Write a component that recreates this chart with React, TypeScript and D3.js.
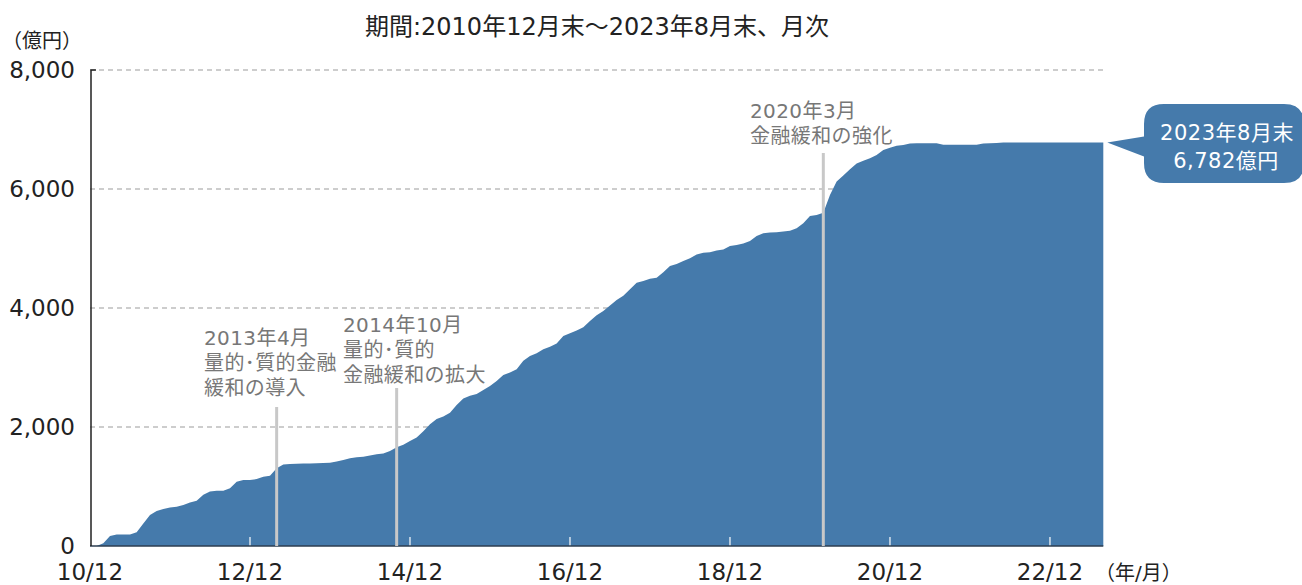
import React from 'react';
import * as d3 from 'd3';

const width = 1302;
const height = 585;
const font = '"DejaVu Sans", "Noto Sans CJK JP", "Noto Sans", sans-serif';

const title = '期間:2010年12月末～2023年8月末、月次';
const unitLabel = '（億円）';
const xUnitLabel = '（年/月）';

// month-end holdings (億円), 2010/12 .. 2023/8
const holdings = [
  0, 0, 45, 170, 195, 195, 195, 230, 380, 520,
  590, 620, 645, 660, 690, 730, 760, 860, 915, 930,
  930, 970, 1080, 1110, 1110, 1125, 1165, 1180, 1305, 1370,
  1380, 1382, 1385, 1388, 1390, 1395, 1400, 1420, 1445, 1475,
  1490, 1500, 1520, 1540, 1555, 1595, 1660, 1700, 1765, 1825,
  1930, 2045, 2135, 2175, 2240, 2370, 2480, 2525, 2555, 2620,
  2690, 2775, 2875, 2915, 2970, 3115, 3195, 3240, 3305, 3350,
  3405, 3530, 3575, 3620, 3675, 3780, 3880, 3950, 4040, 4135,
  4205, 4315, 4425, 4455, 4490, 4510, 4600, 4705, 4740, 4790,
  4835, 4900, 4930, 4935, 4965, 4985, 5040, 5060, 5085, 5125,
  5210, 5255, 5270, 5275, 5285, 5300, 5340, 5425, 5545, 5565,
  5600, 5900, 6125, 6225, 6330, 6430, 6475, 6515, 6570, 6655,
  6695, 6725, 6740, 6765, 6770, 6770, 6770, 6770, 6745, 6745,
  6745, 6745, 6745, 6745, 6765, 6770, 6775, 6780, 6780, 6781,
  6781, 6781, 6782, 6782, 6782, 6782, 6782, 6782, 6782, 6782,
  6782, 6782, 6782,
];

const yTicks = [0, 2000, 4000, 6000, 8000];
const xTickMonths = [0, 24, 48, 72, 96, 120, 144];
const xTickLabels = ['10/12', '12/12', '14/12', '16/12', '18/12', '20/12', '22/12'];

const eventMonths = [28, 46, 110];
const eventLabels = [
  ['2013年4月', '量的･質的金融', '緩和の導入'],
  ['2014年10月', '量的･質的', '金融緩和の拡大'],
  ['2020年3月', '金融緩和の強化'],
];
const calloutTitle = '2023年8月末';

// label placement for each event (layout only)
const eventLayout = [
  { lineTop: 407, tx: 204, ty: 345 },
  { lineTop: 388, tx: 343, ty: 332 },
  { lineTop: 153, tx: 750, ty: 118 },
];

const App = () => {
  const x = d3.scaleLinear().domain([0, holdings.length - 1]).range([90, 1103.3]);
  const y = d3.scaleLinear().domain([0, 8000]).range([546, 70]);
  const area = d3
    .area<number>()
    .x((d, i) => x(i))
    .y0(y(0))
    .y1((d) => y(d))
    .curve(d3.curveLinear);

  const last = holdings[holdings.length - 1];
  const lastX = x(holdings.length - 1);
  const lastY = y(last);
  const fmt = d3.format(',');

  // callout box
  const bx0 = 1144, bx1 = 1304, by0 = 104, by1 = 183, r = 20;
  const callout =
    `M${bx0 + r},${by0} H${bx1 - r} Q${bx1},${by0} ${bx1},${by0 + r} V${by1 - r} Q${bx1},${by1} ${bx1 - r},${by1} ` +
    `H${bx0 + r} Q${bx0},${by1} ${bx0},${by1 - r} V${lastY + 14} L${lastX + 4},${lastY} L${bx0},${lastY - 6} ` +
    `V${by0 + r} Q${bx0},${by0} ${bx0 + r},${by0} Z`;

  return (
    <svg
      width={width}
      height={height}
      style={{ position: 'fixed', left: 0, top: 0, background: '#fff' }}
      fontFamily={font}
    >
      <text x={597} y={35} textAnchor="middle" fontSize={24} fill="#222">
        {title}
      </text>
      <text x={2} y={48} fontSize={20} fill="#222">
        {unitLabel}
      </text>

      {/* grid */}
      {yTicks.filter((t) => t > 0).map((t) => (
        <line
          key={t}
          x1={x(0)}
          x2={x(holdings.length - 1)}
          y1={y(t)}
          y2={y(t)}
          stroke="#bdbdbd"
          strokeWidth={1.3}
          strokeDasharray="5,4"
        />
      ))}

      <path d={area(holdings) ?? ''} fill="#457aab" />

      {/* white ticks inside area */}
      {xTickMonths.slice(1).map((m) => (
        <line key={m} x1={x(m)} x2={x(m)} y1={537} y2={546} stroke="#fff" strokeWidth={1.2} />
      ))}

      {/* axes */}
      <line x1={x(0)} x2={x(holdings.length - 1)} y1={y(0)} y2={y(0)} stroke="#2c3e50" strokeWidth={1.5} />
      <path d={`M${x(0) + 6},${y(8000)} H${x(0) + 1} V${y(0)}`} fill="none" stroke="#222" strokeWidth={1.5} />

      {yTicks.map((t) => (
        <text key={t} x={75} y={y(t) + 8} textAnchor="end" fontSize={23} fill="#222">
          {fmt(t)}
        </text>
      ))}
      {xTickMonths.map((m, i) => (
        <text key={m} x={x(m)} y={580} textAnchor="middle" fontSize={23} fill="#222">
          {xTickLabels[i]}
        </text>
      ))}
      <text x={1095} y={580} fontSize={20} fill="#222">
        {xUnitLabel}
      </text>

      {/* event lines and labels */}
      {eventMonths.map((m, i) => (
        <g key={m}>
          <line x1={x(m)} x2={x(m)} y1={eventLayout[i].lineTop} y2={546} stroke="#c8c8c8" strokeWidth={3} />
          {eventLabels[i].map((s, j) => (
            <text key={j} x={eventLayout[i].tx} y={eventLayout[i].ty + j * 25} fontSize={20} letterSpacing={0.4} fill="#777">
              {s}
            </text>
          ))}
        </g>
      ))}

      {/* callout */}
      <path d={callout} fill="#457aab" />
      <text x={1227} y={140} textAnchor="middle" fontSize={21} letterSpacing={0.5} fill="#fff">
        {calloutTitle}
      </text>
      <text x={1226} y={168} textAnchor="middle" fontSize={21} letterSpacing={0.5} fill="#fff">
        {`${fmt(last)}億円`}
      </text>
    </svg>
  );
};

export default App;
